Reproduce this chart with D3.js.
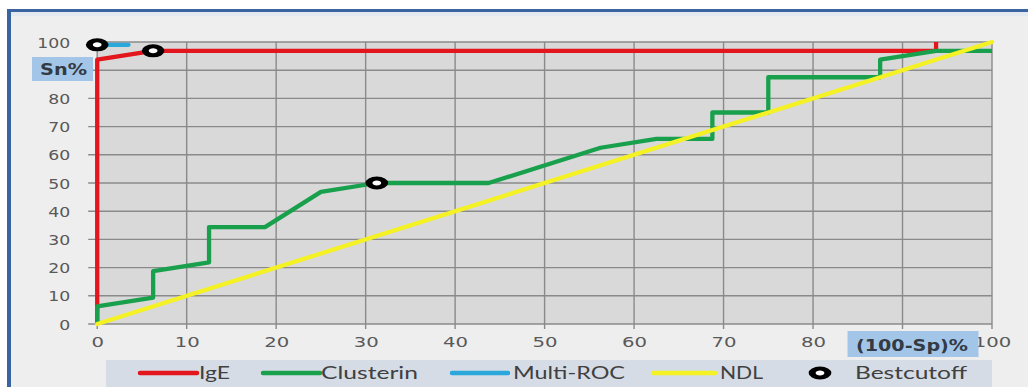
<!DOCTYPE html>
<html>
<head>
<meta charset="utf-8">
<script src="https://cdn.jsdelivr.net/npm/d3@7"></script>
<style>
  html, body { margin: 0; padding: 0; background: #ffffff; }
  svg { display: block; }
</style>
</head>
<body>
<svg id="chart" width="1028" height="387"></svg>
<script>
// ---------- data ----------
const xTickValues = [0, 10, 20, 30, 40, 50, 60, 70, 80, 90, 100];
const yTickValues = [0, 10, 20, 30, 40, 50, 60, 70, 80, 90, 100];
// labels that are visible (90 is hidden behind the axis-title boxes)
const xTickLabels = [0, 10, 20, 30, 40, 50, 60, 70, 80, 100];
const yTickLabels = [0, 10, 20, 30, 40, 50, 60, 70, 80, 100];
const seriesNames = ["IgE", "Clusterin", "Multi-ROC", "NDL", "Bestcutoff"];

const igeX = [0, 0, 6.25, 93.75, 93.75];
const igeY = [0, 93.75, 96.875, 96.875, 100];

const clusterinX = [0, 0, 6.25, 6.25, 12.5, 12.5, 18.75, 25, 31.25, 43.75, 56.25, 62.5, 68.75, 68.75, 75, 75, 87.5, 87.5, 93.75, 100];
const clusterinY = [0, 6.25, 9.375, 18.75, 21.875, 34.375, 34.375, 46.875, 50, 50, 62.5, 65.625, 65.625, 75, 75, 87.5, 87.5, 93.75, 96.875, 96.875];

const multiRocX = [0, 3.5];
const multiRocY = [99, 99];

const ndlX = [0, 100];
const ndlY = [0, 100];

const cutoffX = [0, 6.25, 31.25];
const cutoffY = [99, 96.875, 50];

// ---------- layout ----------
const svg = d3.select("#chart");
const W = 1028, H = 387;
const plot = { left: 97.2, right: 992, top: 42, bottom: 324 };

const x = d3.scaleLinear().domain([0, 100]).range([plot.left, plot.right]);
const y = d3.scaleLinear().domain([0, 100]).range([plot.bottom, plot.top]);

const colors = { IgE: "#e3151d", Clusterin: "#18a04c", "Multi-ROC": "#2aa8dc", NDL: "#f4f124" };

// chart area background + borders
svg.append("rect").attr("x", 7).attr("y", 9).attr("width", W - 7).attr("height", H - 9).attr("fill", "#eeeeee");
svg.append("rect").attr("x", 11).attr("y", 12).attr("width", W - 11).attr("height", 4).attr("fill", "#e4e9f1");
svg.append("rect").attr("x", 7).attr("y", 9).attr("width", W - 7).attr("height", 3).attr("fill", "#3a64a0");
svg.append("rect").attr("x", 7).attr("y", 9).attr("width", 4).attr("height", H - 9).attr("fill", "#3a64a0");

// plot area
svg.append("rect")
  .attr("x", plot.left).attr("y", plot.top)
  .attr("width", plot.right - plot.left).attr("height", plot.bottom - plot.top)
  .attr("fill", "#d9d9d9");

// gridlines (with outward tick stubs)
const grid = svg.append("g").attr("stroke", "#8a8a8a").attr("stroke-width", 1.4);
grid.selectAll("line.h").data(yTickValues).enter().append("line")
  .attr("x1", plot.left - 9).attr("x2", plot.right)
  .attr("y1", d => y(d)).attr("y2", d => y(d));
grid.selectAll("line.v").data(xTickValues).enter().append("line")
  .attr("y1", plot.top).attr("y2", plot.bottom + 5)
  .attr("x1", d => x(d)).attr("x2", d => x(d));

// axes labels
const yAxis = svg.append("g")
  .attr("transform", `translate(${plot.left},0)`)
  .call(d3.axisLeft(y).tickValues(yTickLabels).tickSize(0).tickPadding(27).tickFormat(d3.format("d")));
yAxis.select(".domain").remove();
yAxis.selectAll("text")
  .attr("font-family", "DejaVu Sans").attr("font-size", 14).attr("fill", "#595959")
  .attr("dy", "0.36em")
  .attr("textLength", d => String(d).length * 11)
  .attr("lengthAdjust", "spacingAndGlyphs");

const xAxis = svg.append("g")
  .attr("transform", `translate(0,${plot.bottom})`)
  .call(d3.axisBottom(x).tickValues(xTickLabels).tickSize(0).tickPadding(15).tickFormat(d3.format("d")));
xAxis.select(".domain").remove();
xAxis.selectAll("text")
  .attr("font-family", "DejaVu Sans").attr("font-size", 14).attr("fill", "#595959")
  .attr("dy", "0.6em")
  .attr("textLength", d => String(d).length * 12.5)
  .attr("lengthAdjust", "spacingAndGlyphs");

// series lines
const line = d3.line().x(d => x(d[0])).y(d => y(d[1]));
const zip = (a, b) => a.map((v, i) => [v, b[i]]);

const lineLayer = svg.append("g").attr("fill", "none").attr("stroke-width", 4.3)
  .attr("stroke-linejoin", "round").attr("stroke-linecap", "round");
lineLayer.append("path").datum(zip(igeX, igeY)).attr("d", line).attr("stroke", colors.IgE).attr("stroke-linecap", "butt");
lineLayer.append("path").datum(zip(clusterinX, clusterinY)).attr("d", line).attr("stroke", colors.Clusterin).attr("stroke-linecap", "butt");
lineLayer.append("path").datum(zip(multiRocX, multiRocY)).attr("d", line).attr("stroke", colors["Multi-ROC"]);
lineLayer.append("path").datum(zip(ndlX, ndlY)).attr("d", line).attr("stroke", colors.NDL);

// bestcutoff markers
function marker(g, cx, cy) {
  g.append("circle")
    .attr("transform", `translate(${cx},${cy}) scale(1.75,1)`)
    .attr("r", 4.5).attr("fill", "#ffffff").attr("stroke", "#000000").attr("stroke-width", 4);
}
const mLayer = svg.append("g");
zip(cutoffX, cutoffY).forEach(p => marker(mLayer, x(p[0]), y(p[1])));

// axis title boxes
function titleBox(bx, by, bw, bh, label, tx, ty, tl) {
  svg.append("rect").attr("x", bx).attr("y", by).attr("width", bw).attr("height", bh).attr("fill", "#a3c6e8");
  svg.append("text").attr("x", tx).attr("y", ty)
    .attr("font-family", "DejaVu Sans").attr("font-weight", "bold").attr("font-size", 15)
    .attr("fill", "#333a44").attr("textLength", tl).attr("lengthAdjust", "spacingAndGlyphs")
    .text(label);
}
titleBox(32, 57, 61, 24, "Sn%", 40, 75, 47);
titleBox(847.5, 331, 131, 26, "(100-Sp)%", 856, 351, 112);

// legend
svg.append("rect").attr("x", 106).attr("y", 360).attr("width", 886).attr("height", H - 360).attr("fill", "#d6dce5");
const legendY = 373;
const legendItems = [
  { name: seriesNames[0], x1: 140, x2: 197, tx: 199, tl: 31 },
  { name: seriesNames[1], x1: 263, x2: 320, tx: 321, tl: 97 },
  { name: seriesNames[2], x1: 452, x2: 508, tx: 513, tl: 112 },
  { name: seriesNames[3], x1: 653, x2: 715, tx: 720, tl: 43 },
  { name: seriesNames[4], marker: 820, tx: 855, tl: 112 }
];
const lg = svg.append("g");
legendItems.forEach(it => {
  if (it.marker) {
    marker(lg, it.marker, legendY);
  } else {
    lg.append("line").attr("x1", it.x1).attr("x2", it.x2).attr("y1", legendY).attr("y2", legendY)
      .attr("stroke", colors[it.name]).attr("stroke-width", 4.5).attr("stroke-linecap", "round");
  }
  lg.append("text").attr("x", it.tx).attr("y", legendY + 6)
    .attr("font-family", "Lato").attr("font-size", 17).attr("fill", "#404040")
    .attr("textLength", it.tl).attr("lengthAdjust", "spacingAndGlyphs")
    .text(it.name);
});
</script>
</body>
</html>
